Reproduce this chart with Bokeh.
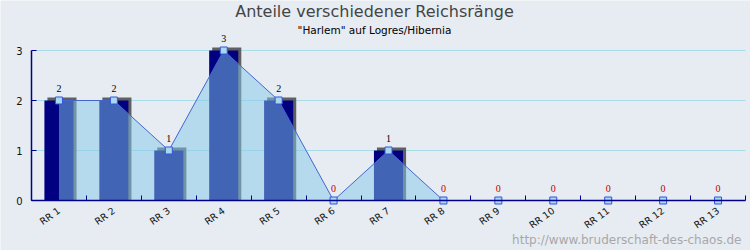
from bokeh.plotting import figure
from bokeh.models import Range1d, FixedTicker, Label, LabelSet, ColumnDataSource
from bokeh.embed import file_html
from bokeh.resources import INLINE

categories = ["RR 1", "RR 2", "RR 3", "RR 4", "RR 5", "RR 6", "RR 7",
              "RR 8", "RR 9", "RR 10", "RR 11", "RR 12", "RR 13"]
values = [2, 2, 1, 3, 2, 0, 1, 0, 0, 0, 0, 0, 0]
y_ticks = [0, 1, 2, 3]
grid_values = [1, 2, 3]

BG = "#E6ECF2"
FONT = "DejaVu Sans"
AXIS = "#00008B"

n = len(categories)
xs = list(range(n))
bw = 0.53      # bar width (data units)
sdx = 0.055    # shadow offset x
sdy = 0.06     # shadow offset y

# frame covers the whole canvas; plot area = x -0.5..n-0.5, y 0..3
PX = 714 / n           # pixels per category
x_lo, x_hi = -0.5, n - 0.5
y_lo, y_hi = 0, 3
xr = Range1d(x_lo - 31 / PX, x_hi + 5 / PX)
yr = Range1d(y_lo - 1, y_hi + 1)

src = ColumnDataSource(dict(
    x=xs, v=values, zero=[0] * n,
    left=[x - bw / 2 for x in xs], right=[x + bw / 2 for x in xs],
    sleft=[x - bw / 2 + sdx for x in xs], sright=[x + bw / 2 + sdx for x in xs],
    stop=[v + sdy if v > 0 else 0 for v in values],
))
pos_src = ColumnDataSource(dict(x=[x for x, v in zip(xs, values) if v > 0],
                                v=[v for v in values if v > 0],
                                t=[str(v) for v in values if v > 0]))
zero_src = ColumnDataSource(dict(x=[x for x, v in zip(xs, values) if v == 0],
                                 v=[v for v in values if v == 0],
                                 t=[str(v) for v in values if v == 0]))

p = figure(width=750, height=250, output_backend="svg", toolbar_location=None,
           x_range=xr, y_range=yr,
           min_border=0, min_border_left=0, min_border_right=0,
           min_border_top=0, min_border_bottom=0,
           background_fill_color=BG, border_fill_color=BG, outline_line_color=None)
p.title.visible = False

# horizontal grid lines inside the plot area
p.segment(x0=[x_lo] * len(grid_values), x1=[x_hi] * len(grid_values),
          y0=grid_values, y1=grid_values, line_color="#A8DCE8", line_width=1)

# bars: shadow + navy body
p.quad(left="sleft", right="sright", bottom="zero", top="stop", source=src,
       fill_color="#606060", line_color=None)
p.quad(left="left", right="right", bottom="zero", top="v", source=src,
       fill_color="#000080", line_color=None)

# area + line + markers
p.varea(x="x", y1="zero", y2="v", source=src, fill_color="#84C8EA", fill_alpha=0.5)
p.line(x="x", y="v", source=src, line_color="#4466CC", line_width=1)
p.scatter(x="x", y="v", source=src, marker="square", size=7,
          fill_color="#A8D8F0", line_color="#3355DD", line_width=1)

# value labels
p.add_layout(LabelSet(x="x", y="v", text="t", source=pos_src, text_color="#000000",
                      text_font=FONT, text_font_size="10px", text_align="center",
                      text_baseline="alphabetic", y_offset=9))
p.add_layout(LabelSet(x="x", y="v", text="t", source=zero_src, text_color="#C00000",
                      text_font=FONT, text_font_size="10px", text_align="center",
                      text_baseline="alphabetic", y_offset=9))

# axes
xa = p.xaxis[0]
xa.fixed_location = 0
xa.bounds = (x_lo, x_hi)
xa.ticker = FixedTicker(ticks=xs, minor_ticks=[x - 0.5 for x in range(n + 1)])
xa.major_label_overrides = {x: c for x, c in zip(xs, categories)}
xa.major_tick_in = 0
xa.major_tick_out = 0
xa.minor_tick_in = 5
xa.minor_tick_out = 0
xa.minor_tick_line_color = AXIS
xa.axis_line_color = AXIS
xa.axis_line_width = 1.5
xa.major_label_orientation = 0.62
xa.major_label_text_font = FONT
xa.major_label_text_font_size = "9.5px"
xa.major_label_text_color = "#111111"
xa.major_label_standoff = 9

ya = p.yaxis[0]
ya.fixed_location = x_lo
ya.bounds = (y_lo, y_hi)
ya.ticker = FixedTicker(ticks=y_ticks)
ya.major_tick_in = 5
ya.major_tick_out = 0
ya.minor_tick_line_color = None
ya.major_tick_line_color = AXIS
ya.axis_line_color = AXIS
ya.axis_line_width = 1.5
ya.major_label_text_font = FONT
ya.major_label_text_font_size = "10px"
ya.major_label_text_color = "#111111"
ya.major_label_standoff = 9

p.xgrid.grid_line_color = None
p.ygrid.grid_line_color = None

# titles and watermark (data units)
p.add_layout(Label(x=5.745, y=3.78,
                   text="Anteile verschiedener Reichsränge", text_font=FONT,
                   text_font_size="16px", text_color="#444444", text_align="center",
                   text_baseline="middle"))
p.add_layout(Label(x=5.745, y=3.41,
                   text="\"Harlem\" auf Logres/Hibernia", text_font=FONT,
                   text_font_size="10.5px", text_color="#000000", text_align="center",
                   text_baseline="middle"))
p.add_layout(Label(x=12.427, y=-0.78,
                   text="http://www.bruderschaft-des-chaos.de", text_font=FONT,
                   text_font_size="12px", text_color="#A8A8A8", text_align="right",
                   text_baseline="middle"))

open("out.html", "w").write(file_html(p, INLINE))
